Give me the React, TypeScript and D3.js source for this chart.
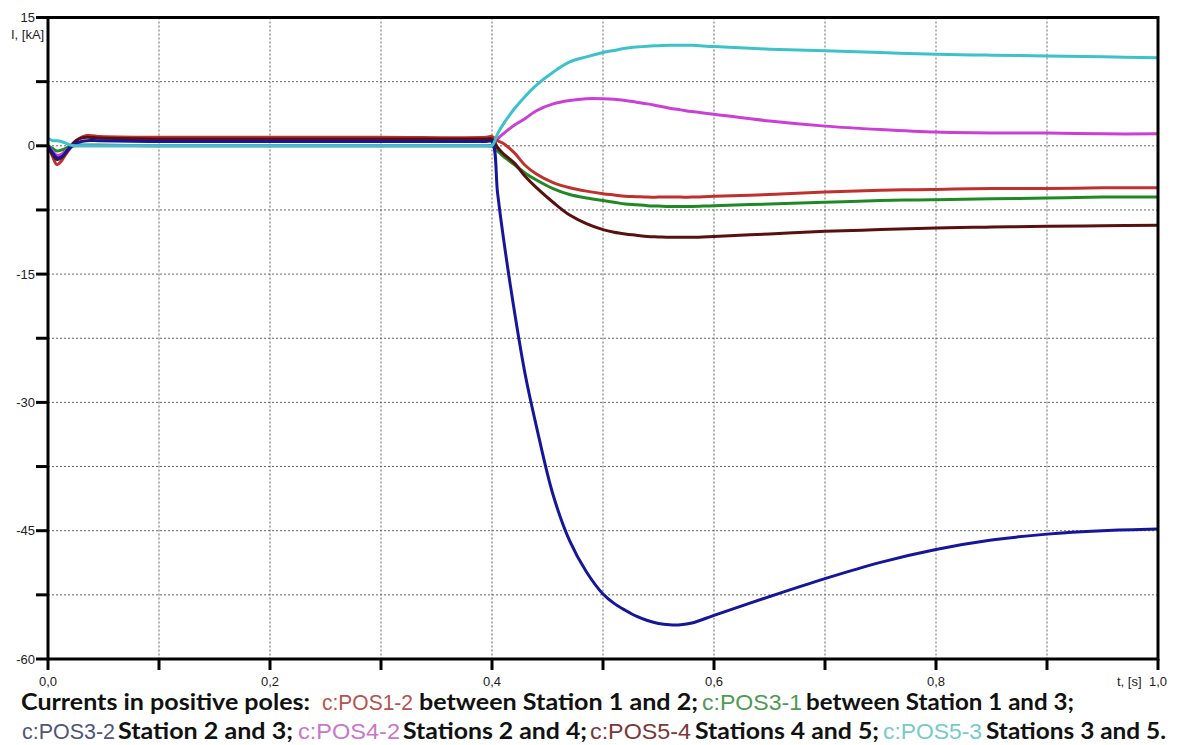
import React from "react";
import * as d3 from "d3";

// ---- data ----
const timeS = [0, 0.004, 0.008, 0.012, 0.016, 0.02, 0.025, 0.03, 0.035, 0.045, 0.1, 0.2, 0.3, 0.395, 0.4,
  0.405, 0.41, 0.42, 0.43, 0.44, 0.455, 0.47, 0.485, 0.5, 0.51, 0.52, 0.53, 0.54, 0.55, 0.56, 0.57, 0.58,
  0.6, 0.65, 0.7, 0.75, 0.8, 0.85, 0.9, 0.95, 1.0];

const pos12 = [0, -1.2, -2.2, -1.8, -1.0, -0.3, 0.5, 1.0, 1.2, 1.1, 1.0, 1.0, 1.0, 1.0, 1.1,
  0.6, 0.3, -0.8, -2.3, -3.3, -4.3, -4.9, -5.3, -5.6, -5.75, -5.9, -5.95, -6.0, -6.0, -6.0, -6.0, -6.0,
  -5.9, -5.7, -5.4, -5.2, -5.1, -5.0, -5.0, -4.9, -4.9];
const pos31 = [0, -0.3, -0.6, -0.5, -0.3, 0, 0.1, 0.1, 0.1, 0.1, 0, 0, 0, 0, 0,
  -0.6, -1.2, -2.2, -3.2, -4.0, -5.0, -5.7, -6.1, -6.4, -6.6, -6.8, -6.9, -7.0, -7.05, -7.1, -7.1, -7.1,
  -7.0, -6.8, -6.6, -6.4, -6.3, -6.2, -6.1, -6.0, -6.0];
const pos32 = [0, -0.8, -1.4, -1.3, -0.8, -0.2, 0.3, 0.5, 0.6, 0.6, 0.5, 0.5, 0.5, 0.5, 0.5,
  -5.5, -10.5, -19.2, -26.8, -32.8, -40.8, -46.2, -49.8, -52.4, -53.5, -54.3, -55.0, -55.5, -55.85, -56.0, -56.0, -55.8,
  -54.9, -52.7, -50.6, -48.7, -47.2, -46.1, -45.4, -45.0, -44.8];
const pos42 = [0, -0.6, -1.1, -1.0, -0.6, -0.2, 0, 0, 0, 0, 0, 0, 0, 0, 0,
  0.8, 1.4, 2.4, 3.2, 4.1, 4.9, 5.3, 5.5, 5.5, 5.45, 5.3, 5.1, 4.9, 4.65, 4.4, 4.2, 4.0,
  3.7, 2.9, 2.3, 1.9, 1.6, 1.5, 1.5, 1.4, 1.4];
const pos54 = [0, -1.0, -1.6, -1.4, -0.8, -0.1, 0.6, 0.9, 1.0, 0.9, 0.8, 0.8, 0.8, 0.8, 0.8,
  -0.2, -0.9, -2.0, -3.6, -4.9, -6.6, -8.1, -9.1, -9.8, -10.1, -10.3, -10.45, -10.6, -10.65, -10.7, -10.7, -10.7,
  -10.6, -10.3, -10.0, -9.8, -9.6, -9.5, -9.4, -9.35, -9.3];
const pos53 = [0.9, 0.6, 0.6, 0.5, 0.3, 0.1, 0, 0, 0, 0, 0, 0, 0, 0, 0,
  1.4, 2.5, 4.3, 5.8, 7.1, 8.6, 9.8, 10.4, 10.9, 11.15, 11.4, 11.55, 11.65, 11.7, 11.75, 11.75, 11.75,
  11.6, 11.3, 11.1, 10.9, 10.7, 10.6, 10.5, 10.4, 10.3];

const seriesNames = ["c:POS3-1", "c:POS4-2", "c:POS1-2", "c:POS5-4", "c:POS3-2", "c:POS5-3"];
const seriesValues = [pos31, pos42, pos12, pos54, pos32, pos53];
const seriesColors = ["#1f8a24", "#cc3fd6", "#c0302c", "#5a1010", "#16169a", "#3cc2c8"];

const xTickValues = [0, 0.1, 0.2, 0.3, 0.4, 0.5, 0.6, 0.7, 0.8, 0.9, 1.0];
const xLabelValues = [0, 0.2, 0.4, 0.6, 0.8];
const yTickValues = [15, 7.5, 0, -7.5, -15, -22.5, -30, -37.5, -45, -52.5, -60];
const yLabelValues = [15, 0, -15, -30, -45, -60];

// legend: [text, color, isSeriesName]
const legendLine1: [string, string, boolean][] = [
  ["Currents in positive poles:", "#111", false],
  ["c:POS1-2", "#b4544e", true],
  ["between Station 1 and 2;", "#111", false],
  ["c:POS3-1", "#4f9a52", true],
  ["between Station 1 and 3;", "#111", false],
];
const legendLine2: [string, string, boolean][] = [
  ["c:POS3-2", "#50557a", true],
  ["Station 2 and 3;", "#111", false],
  ["c:POS4-2", "#c877cc", true],
  ["Stations 2 and 4;", "#111", false],
  ["c:POS5-4", "#7a3838", true],
  ["Stations 4 and 5;", "#111", false],
  ["c:POS5-3", "#78caca", true],
  ["Stations 3 and 5.", "#111", false],
];
// layout extents (px) for legend segments
const legendLayout1 = [[21, 310], [322, 413], [419, 698], [702, 802], [806, 1074]];
const legendLayout2 = [[22, 115], [118, 293], [298, 400], [403, 587], [590, 691], [695, 879], [883, 982], [986, 1166]];

const W = 1180, H = 745;
const L = 48, R = 1158, T = 17.5, B = 659;

const fmt = (v: number) => v.toFixed(1).replace(".", ",");

export default function App() {
  const x = d3.scaleLinear().domain([0, 1]).range([L, R]);
  const y = d3.scaleLinear().domain([-60, 15]).range([B, T]);
  const line = d3.line<number>()
    .x((_, i) => x(timeS[i]))
    .y((v) => y(v))
    .curve(d3.curveCatmullRom.alpha(0.5));

  const renderLegend = (segs: [string, string, boolean][], layout: number[][], baseline: number) =>
    segs.map(([txt, col, isName], i) => (
      <text key={i} x={layout[i][0]} y={baseline} fill={col}
        fontFamily={isName ? "'Liberation Sans', Arial, sans-serif" : "Lato, 'Open Sans', sans-serif"}
        fontWeight={isName ? 400 : 700}
        fontSize={isName ? 22 : 23.5}
        textLength={layout[i][1] - layout[i][0]}
        lengthAdjust="spacingAndGlyphs">{txt}</text>
    ));

  return (
    <svg width={W} height={H} style={{ position: "absolute", left: 0, top: 0, background: "#fff" }}>
      <rect x={0} y={0} width={W} height={H} fill="#fff" />
      {/* grid */}
      {xTickValues.filter((t) => t > 0 && t < 1).map((t) => (
        <line key={"gx" + t} x1={x(t)} x2={x(t)} y1={T} y2={B} stroke="#666" strokeWidth={1} strokeDasharray="2,2" />
      ))}
      {yTickValues.filter((v) => v > -60 && v < 15).map((v) => (
        <line key={"gy" + v} x1={L} x2={R} y1={y(v)} y2={y(v)} stroke="#666" strokeWidth={1} strokeDasharray="2,2" />
      ))}
      {/* series */}
      {seriesValues.map((vals, i) => (
        <path key={seriesNames[i]} d={line(vals) || ""} fill="none" stroke={seriesColors[i]} strokeWidth={3} strokeLinejoin="round" />
      ))}
      {/* frame */}
      <rect x={L} y={T} width={R - L} height={B - T} fill="none" stroke="#000" strokeWidth={3} />
      {/* x ticks */}
      {xTickValues.map((t) => (
        <line key={"tx" + t} x1={x(t)} x2={x(t)} y1={B} y2={B + 11} stroke="#000" strokeWidth={3} />
      ))}
      {xLabelValues.map((t) => (
        <text key={"lx" + t} x={x(t)} y={686} textAnchor="middle" fontFamily="'Liberation Sans', Arial, sans-serif" fontSize={13} fill="#222">{fmt(t)}</text>
      ))}
      <text x={x(1)} y={686} textAnchor="middle" fontFamily="'Liberation Sans', Arial, sans-serif" fontSize={13} fill="#222">{fmt(1)}</text>
      <text x={1117} y={686} fontFamily="'Liberation Sans', Arial, sans-serif" fontSize={13} fill="#222">t, [s]</text>
      {/* y ticks */}
      {yTickValues.map((v) => (
        <line key={"ty" + v} x1={L - 12} x2={L} y1={y(v)} y2={y(v)} stroke="#000" strokeWidth={3} />
      ))}
      {yLabelValues.map((v) => (
        <text key={"ly" + v} x={L - 13} y={y(v) + 4.5} textAnchor="end" fontFamily="'Liberation Sans', Arial, sans-serif" fontSize={13} fill="#222">{v}</text>
      ))}
      <text x={11} y={39} fontFamily="'Liberation Sans', Arial, sans-serif" fontSize={13} fill="#222">I, [kA]</text>
      {/* legend */}
      {renderLegend(legendLine1, legendLayout1, 710)}
      {renderLegend(legendLine2, legendLayout2, 739)}
    </svg>
  );
}
